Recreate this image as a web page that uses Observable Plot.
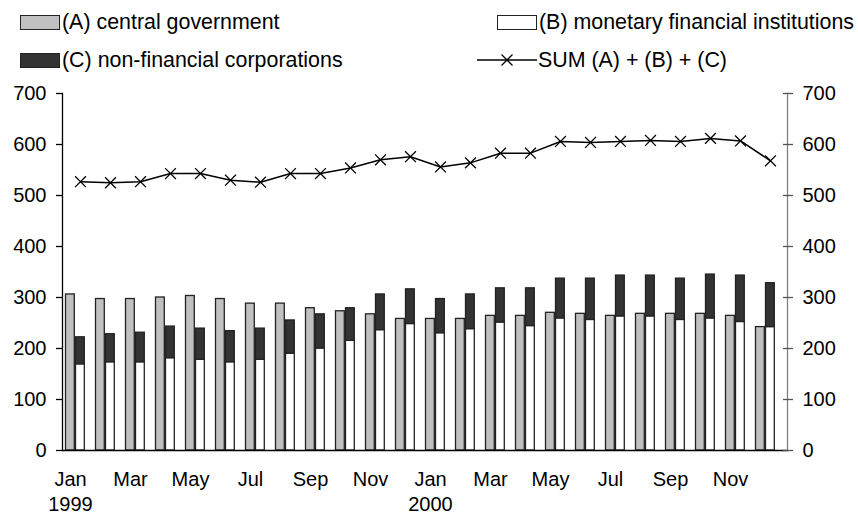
<!DOCTYPE html>
<html><head><meta charset="utf-8">
<script src="https://cdn.jsdelivr.net/npm/d3@7"></script>
<script src="https://cdn.jsdelivr.net/npm/@observablehq/plot@0.6"></script>
<style>
body{margin:0;background:#fff;font-family:"Liberation Sans",Arial,sans-serif;color:#000;}
#wrap{position:relative;width:858px;height:515px;overflow:hidden;}
#legend{position:relative;height:80px;font-size:21.4px;}
.item{position:absolute;display:flex;align-items:center;height:24px;white-space:nowrap;}
.sw{width:40px;height:15px;border:1.3px solid #222;box-sizing:border-box;margin-right:2px;}
#chart svg{display:block;}
</style></head><body>
<div id="wrap"><div id="legend"></div><div id="chart"></div></div>
<script>
const months = ["Jan 1999","Feb 1999","Mar 1999","Apr 1999","May 1999","Jun 1999","Jul 1999","Aug 1999","Sep 1999","Oct 1999","Nov 1999","Dec 1999",
                "Jan 2000","Feb 2000","Mar 2000","Apr 2000","May 2000","Jun 2000","Jul 2000","Aug 2000","Sep 2000","Oct 2000","Nov 2000","Dec 2000"];
const centralGov = [306,297,297,300,303,297,288,288,279,273,267,258,258,258,264,264,270,268,264,268,268,268,264,242];
const monetaryFin = [169,173,173,181,178,173,178,190,200,215,236,248,230,238,251,244,259,256,263,263,256,259,252,242];
const nonFinCorp = [53,55,58,62,61,61,61,65,67,64,70,68,67,68,67,74,78,81,80,80,81,86,91,86];
const sumABC = [527,525,527,543,543,530,526,543,543,554,570,576,556,564,583,583,606,604,606,608,606,612,607,568];
const yTicks = [0,100,200,300,400,500,600,700];
const tickMonths = months.filter((_, i) => i % 2 === 0);
const seriesNames = ["(A) central government","(B) monetary financial institutions","(C) non-financial corporations","SUM (A) + (B) + (C)"];

const colGrey = "#c0c0c0", colDark = "#333333", colEdge = "#222222";

// legend
const legend = document.getElementById("legend");
function addItem(left, top, html){
  const d = document.createElement("div");
  d.className = "item"; d.style.left = left + "px"; d.style.top = top + "px";
  d.innerHTML = html; legend.appendChild(d);
}
addItem(20, 10, `<span class="sw" style="background:${colGrey}"></span><span>${seriesNames[0]}</span>`);
addItem(497, 10, `<span class="sw" style="background:#fff"></span><span>${seriesNames[1]}</span>`);
addItem(20, 48, `<span class="sw" style="background:${colDark}"></span><span>${seriesNames[2]}</span>`);
addItem(477, 48, `<svg width="60" height="20" style="margin-right:1px"><line x1="0" y1="10" x2="60" y2="10" stroke="#000" stroke-width="1.5"/><path d="M24.5,4.5L35.5,15.5M24.5,15.5L35.5,4.5" stroke="#000" stroke-width="1.3"/></svg><span>${seriesNames[3]}</span>`);

const rows = months.map((m, i) => ({m, A: centralGov[i], B: monetaryFin[i], C: nonFinCorp[i], S: sumABC[i]}));
const stacked = rows.flatMap(d => [{m: d.m, series: "B", v: d.B}, {m: d.m, series: "C", v: d.C}]);

const W = 858, H = 435, mL = 62, mR = 71;
const bw = (W - mL - mR) / months.length;

const chart = Plot.plot({
  width: W, height: H,
  marginLeft: mL, marginRight: mR, marginTop: 13, marginBottom: 65,
  style: {fontFamily: "'Liberation Sans', Arial, sans-serif", fontSize: "20px", color: "#000", background: "#fff", overflow: "visible"},
  x: {domain: months, padding: 0, label: null},
  y: {domain: [0, 700], label: null},
  color: {domain: ["B", "C"], range: ["#ffffff", colDark]},
  marks: [
    Plot.barY(rows, {x: "m", y: "A", fill: colGrey, stroke: colEdge, strokeWidth: 1.3, insetLeft: 0.5, insetRight: bw - 9.5}),
    Plot.barY(stacked, {x: "m", y: "v", fill: "series", stroke: colEdge, strokeWidth: 1.3, insetLeft: 10.5, insetRight: bw - 19.5}),
    Plot.line(rows, {x: "m", y: "S", stroke: "#000", strokeWidth: 1.5}),
    Plot.dot(rows, {x: "m", y: "S", symbol: "times", r: 5, stroke: "#000", strokeWidth: 1.3}),
    Plot.frame({anchor: "bottom", stroke: "#000", strokeWidth: 1.3}),
    Plot.frame({anchor: "left", stroke: "#000", strokeWidth: 1.3}),
    Plot.frame({anchor: "right", stroke: "#808080", strokeWidth: 1.3}),
    Plot.axisY({anchor: "left", ticks: yTicks, tickSize: 6, tickPadding: 10, label: null, strokeWidth: 1.3}),
    Plot.axisY({anchor: "right", ticks: yTicks, tickSize: 10, dx: -5, tickPadding: 10, label: null, stroke: "#555", strokeWidth: 1.3}),
    Plot.axisX({ticks: tickMonths, tickSize: 0, tickPadding: 17, dx: -10, lineHeight: 1.27, label: null,
      tickFormat: d => { const [mo, yr] = d.split(" "); return mo === "Jan" ? mo + "\n" + yr : mo; }})
  ]
});
document.getElementById("chart").appendChild(chart);
</script>
</body></html>
